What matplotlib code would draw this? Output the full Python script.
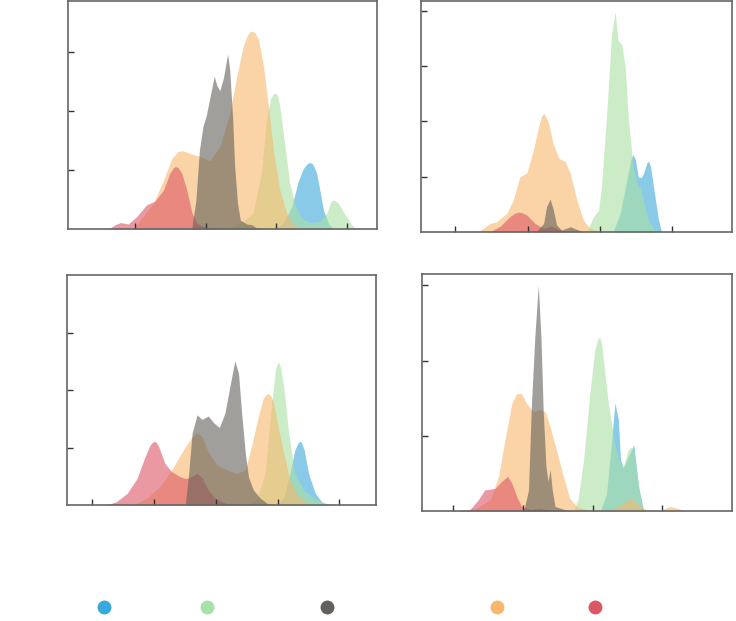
import numpy as np
import matplotlib
matplotlib.use("Agg")
import matplotlib.pyplot as plt
from matplotlib.lines import Line2D

# series order as in the legend
series = ["blue", "green", "grey", "orange", "red"]
colors = {"blue": "#3aa8da", "green": "#a9e0a3", "grey": "#636059",
          "orange": "#f8b76b", "red": "#dd5666"}
# stacking order of the filled areas (last one on top)
draw_order = ["blue", "green", "orange", "red", "grey"]

# density curves, (x, y) in tick units
# panel 1 (top left)
p1_blue = [(2.96, 0), (3.10, 0.10), (3.22, 0.38), (3.31, 0.80), (3.38, 1.02), (3.44, 1.11),
           (3.48, 1.13), (3.52, 1.10), (3.57, 0.96), (3.61, 0.72), (3.67, 0.32), (3.74, 0.10),
           (3.81, 0)]
p1_green = [(2.30, 0), (2.49, 0.10), (2.67, 0.27), (2.79, 0.95), (2.86, 1.85), (2.92, 2.22),
            (2.96, 2.29), (2.99, 2.31), (3.02, 2.26), (3.05, 2.08), (3.12, 1.45), (3.19, 0.78),
            (3.27, 0.41), (3.36, 0.18), (3.48, 0.11), (3.62, 0.13), (3.72, 0.27), (3.77, 0.45),
            (3.80, 0.49), (3.84, 0.48), (3.88, 0.44), (3.98, 0.24), (4.07, 0.07), (4.14, 0)]
p1_grey = [(1.80, 0), (1.86, 0.49), (1.91, 1.34), (1.96, 1.74), (2.01, 1.94), (2.07, 2.30),
           (2.12, 2.59), (2.16, 2.43), (2.20, 2.35), (2.25, 2.56), (2.31, 2.97), (2.34, 2.70),
           (2.38, 1.91), (2.41, 1.06), (2.45, 0.44), (2.49, 0.15), (2.58, 0.085), (2.65, 0.074),
           (2.72, 0.02), (2.86, 0)]
p1_orange = [(0.97, 0), (1.11, 0.21), (1.26, 0.44), (1.40, 0.83), (1.52, 1.20), (1.60, 1.31),
             (1.66, 1.33), (1.72, 1.31), (1.78, 1.28), (1.92, 1.23), (2.06, 1.16), (2.20, 1.40),
             (2.34, 1.96), (2.44, 2.59), (2.53, 3.10), (2.59, 3.29), (2.63, 3.35), (2.66, 3.36),
             (2.70, 3.33), (2.75, 3.21), (2.82, 2.76), (2.89, 2.08), (2.96, 1.34), (3.05, 0.66),
             (3.15, 0.27), (3.24, 0.07), (3.38, 0)]
p1_red = [(0.62, 0), (0.71, 0.07), (0.79, 0.11), (0.90, 0.085), (1.02, 0.21), (1.16, 0.41),
          (1.28, 0.475), (1.40, 0.66), (1.49, 0.945), (1.54, 1.04), (1.57, 1.06), (1.61, 1.04),
          (1.66, 0.945), (1.73, 0.66), (1.80, 0.29), (1.87, 0.10), (2.01, 0.02), (2.30, 0)]

# panel 2 (top right)
p2_blue = [(3.18, 0), (3.28, 0.33), (3.37, 0.93), (3.43, 1.32), (3.46, 1.40), (3.49, 1.30),
           (3.53, 0.99), (3.57, 0.98), (3.60, 1.05), (3.65, 1.25), (3.67, 1.28), (3.70, 1.18),
           (3.74, 0.81), (3.81, 0.21), (3.85, 0)]
p2_green = [(2.82, 0), (2.91, 0.27), (2.98, 0.39), (3.02, 0.81), (3.09, 2.08), (3.16, 3.58),
            (3.21, 3.98), (3.25, 3.46), (3.30, 3.40), (3.35, 2.98), (3.39, 2.08), (3.46, 1.17),
            (3.53, 0.81), (3.56, 0.83), (3.60, 0.57), (3.67, 0.21), (3.74, 0.06), (3.83, 0)]
p2_grey = [(2.12, 0), (2.22, 0.15), (2.26, 0.45), (2.31, 0.59), (2.35, 0.42), (2.40, 0.12),
           (2.47, 0.03), (2.59, 0.09), (2.70, 0.03), (2.77, 0)]
p2_orange = [(1.32, 0), (1.48, 0.15), (1.57, 0.18), (1.71, 0.33), (1.80, 0.57), (1.89, 0.99),
             (1.99, 1.07), (2.08, 1.48), (2.15, 1.90), (2.19, 2.09), (2.22, 2.14), (2.25, 2.09),
             (2.29, 1.96), (2.35, 1.60), (2.43, 1.33), (2.52, 1.27), (2.59, 1.05), (2.68, 0.57),
             (2.77, 0.21), (2.86, 0.06), (3.00, 0)]
p2_red = [(1.48, 0), (1.62, 0.10), (1.76, 0.28), (1.83, 0.34), (1.87, 0.355), (1.92, 0.345),
          (1.99, 0.30), (2.10, 0.15), (2.22, 0.06), (2.33, 0.10), (2.45, 0.03), (2.59, 0)]

# panel 3 (bottom left)
p3_blue = [(3.99, 0), (4.10, 0.12), (4.20, 0.55), (4.28, 0.96), (4.33, 1.08), (4.36, 1.11),
           (4.39, 1.08), (4.43, 0.96), (4.50, 0.55), (4.61, 0.20), (4.71, 0.06), (4.82, 0)]
p3_green = [(3.50, 0), (3.66, 0.09), (3.80, 0.55), (3.91, 1.83), (3.97, 2.38), (4.01, 2.50),
            (4.05, 2.39), (4.10, 2.06), (4.18, 1.25), (4.28, 0.55), (4.42, 0.26), (4.58, 0.12),
            (4.74, 0.04), (4.90, 0)]
p3_grey = [(2.51, 0), (2.56, 0.49), (2.62, 1.25), (2.70, 1.57), (2.78, 1.49), (2.88, 1.55),
           (2.97, 1.43), (3.06, 1.35), (3.15, 1.60), (3.23, 2.06), (3.31, 2.51), (3.37, 2.29),
           (3.42, 1.60), (3.48, 0.90), (3.53, 0.49), (3.61, 0.26), (3.72, 0.12), (3.83, 0.03),
           (3.93, 0)]
p3_orange = [(1.67, 0), (1.89, 0.12), (2.10, 0.32), (2.29, 0.61), (2.48, 0.96), (2.62, 1.19),
             (2.70, 1.26), (2.78, 1.19), (2.88, 0.93), (3.02, 0.70), (3.18, 0.61), (3.34, 0.55),
             (3.48, 0.61), (3.58, 1.02), (3.69, 1.54), (3.77, 1.86), (3.82, 1.93), (3.85, 1.94),
             (3.89, 1.90), (3.93, 1.80), (4.01, 1.36), (4.10, 0.90), (4.20, 0.435), (4.31, 0.20),
             (4.45, 0.06), (4.58, 0)]
p3_red = [(1.24, 0), (1.40, 0.06), (1.57, 0.20), (1.73, 0.46), (1.86, 0.84), (1.94, 1.04),
          (1.98, 1.09), (2.01, 1.11), (2.04, 1.09), (2.08, 1.02), (2.18, 0.725), (2.29, 0.58),
          (2.43, 0.49), (2.53, 0.46), (2.62, 0.50), (2.70, 0.55), (2.78, 0.48), (2.88, 0.26),
          (2.99, 0.12), (3.13, 0.04), (3.29, 0)]

# panel 4 (bottom right)
p4_blue = [(3.11, 0), (3.20, 0.23), (3.27, 0.90), (3.32, 1.44), (3.37, 1.21), (3.40, 0.68),
           (3.44, 0.57), (3.51, 0.72), (3.59, 0.88), (3.66, 0.32), (3.73, 0.01), (3.75, 0)]
p4_green = [(2.72, 0), (2.79, 0.15), (2.87, 0.68), (2.96, 1.56), (3.03, 2.14), (3.07, 2.28),
            (3.10, 2.31), (3.13, 2.22), (3.15, 2.05), (3.22, 1.47), (3.30, 0.99), (3.37, 0.68),
            (3.44, 0.59), (3.51, 0.81), (3.55, 0.85), (3.59, 0.81), (3.64, 0.46), (3.69, 0.15),
            (3.73, 0)]
p4_grey = [(2.01, 0), (2.08, 0.28), (2.12, 1.38), (2.17, 2.31), (2.22, 3.00), (2.26, 2.27),
           (2.29, 1.34), (2.33, 0.59), (2.36, 0.39), (2.39, 0.55), (2.42, 0.28), (2.46, 0.06),
           (2.63, 0.01), (2.77, 0)]
p4_orange = [(1.05, 0), (1.33, 0.035), (1.53, 0.15), (1.65, 0.46), (1.74, 0.94), (1.84, 1.43),
             (1.91, 1.56), (1.98, 1.56), (2.05, 1.43), (2.15, 1.32), (2.24, 1.35), (2.32, 1.32),
             (2.39, 1.12), (2.48, 0.81), (2.58, 0.46), (2.67, 0.17), (2.77, 0.06), (2.91, 0.02),
             (3.06, 0.01), (3.30, 0.035), (3.44, 0.10), (3.55, 0.18), (3.66, 0.08), (3.78, 0.01),
             (3.97, 0.01), (4.11, 0.06), (4.23, 0.035), (4.33, 0)]
p4_red = [(1.05, 0), (1.24, 0.02), (1.36, 0.15), (1.45, 0.28), (1.53, 0.29), (1.60, 0.30),
          (1.69, 0.39), (1.78, 0.46), (1.84, 0.37), (1.91, 0.19), (1.98, 0.06), (2.10, 0.02),
          (2.24, 0.035), (2.39, 0.01), (2.53, 0)]

panels = [
    {"curves": dict(zip(series, [p1_blue, p1_green, p1_grey, p1_orange, p1_red])),
     "xlim": (0.045, 4.43), "ylim": (0, 3.88), "xticks": [1, 2, 3, 4], "yticks": [1, 2, 3]},
    {"curves": dict(zip(series, [p2_blue, p2_green, p2_grey, p2_orange, p2_red])),
     "xlim": (0.52, 4.83), "ylim": (0, 4.19), "xticks": [1, 2, 3, 4], "yticks": [1, 2, 3, 4]},
    {"curves": dict(zip(series, [p3_blue, p3_green, p3_grey, p3_orange, p3_red])),
     "xlim": (0.60, 5.59), "ylim": (0, 4.0), "xticks": [1, 2, 3, 4, 5], "yticks": [1, 2, 3]},
    {"curves": dict(zip(series, [p4_blue, p4_green, p4_grey, p4_orange, p4_red])),
     "xlim": (0.555, 5.005), "ylim": (0, 3.15), "xticks": [1, 2, 3, 4], "yticks": [1, 2, 3]},
]

W, H = 736, 621
# axes boxes in pixels: left, top, right, bottom
boxes = [(68, 0.5, 377, 229), (420.7, 0.5, 732.3, 231.7),
         (67, 275.3, 376, 505), (422.3, 274, 732.3, 511)]

fig = plt.figure(figsize=(W / 100, H / 100), dpi=100)

for (l, t, r, b), panel in zip(boxes, panels):
    ax = fig.add_axes([l / W, 1 - b / H, (r - l) / W, (b - t) / H])
    for name in draw_order:
        arr = np.array(panel["curves"][name])
        ax.fill_between(arr[:, 0], arr[:, 1], 0, color=colors[name], alpha=0.6, linewidth=0)
    ax.set_xlim(*panel["xlim"])
    ax.set_ylim(*panel["ylim"])
    ax.set_xticks(panel["xticks"])
    ax.set_yticks(panel["yticks"])
    ax.tick_params(direction="in", length=4, width=1, color="#333333",
                   labelbottom=False, labelleft=False)
    for sp in ax.spines.values():
        sp.set_color("#666666")
        sp.set_linewidth(1.2)

# legend dots, one legend per series so the gaps follow the reference
legend_x = [104, 207, 327, 497, 595]
for name, x in zip(series, legend_x):
    h = Line2D([], [], marker="o", linestyle="", markersize=10,
               markerfacecolor=colors[name], markeredgewidth=0)
    fig.legend([h], [""], loc="center", bbox_to_anchor=(x / W, 1 - 607.5 / H),
               frameon=False, handlelength=0.6, handletextpad=0, borderpad=0)

fig.savefig("out.png", dpi=100)
